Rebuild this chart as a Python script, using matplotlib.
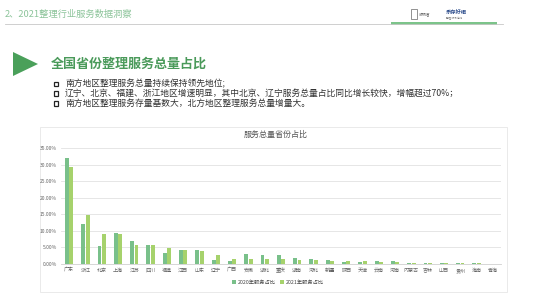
import matplotlib
matplotlib.use("Agg")
import matplotlib.pyplot as plt
import numpy as np
from matplotlib.patches import Polygon, Rectangle

plt.rcParams['font.family'] = ['Noto Sans CJK SC', 'DejaVu Sans']

provinces = ["广东", "浙江", "北京", "上海", "江苏", "四川", "福建", "江西", "山东", "辽宁",
             "广西", "安徽", "湖北", "重庆", "湖南", "河北", "新疆", "陕西", "天津", "云南",
             "河南", "内蒙古", "吉林", "山西", "贵州", "海南", "青海"]
share_2020 = [32.0, 12.0, 5.3, 9.3, 6.8, 5.6, 3.1, 4.2, 4.2, 1.2,
              0.7, 2.8, 2.5, 2.7, 1.6, 1.3, 1.0, 0.6, 0.4, 0.7,
              0.9, 0.1, 0.1, 0.2, 0.1, 0.3, 0.0]
share_2021 = [29.4, 14.7, 8.9, 8.9, 5.7, 5.6, 4.8, 4.2, 3.8, 2.5,
              1.5, 1.5, 1.4, 1.3, 1.2, 1.1, 0.9, 0.8, 0.7, 0.5,
              0.5, 0.3, 0.3, 0.2, 0.2, 0.1, 0.0]
yticks = [0, 5, 10, 15, 20, 25, 30, 35]
series_names = ["2020年服务占比", "2021年服务占比"]

W, H = 533, 300
fig = plt.figure(figsize=(W / 100, H / 100), dpi=100)
fig.patch.set_facecolor("white")

bg = fig.add_axes([0, 0, 1, 1])
bg.set_xlim(0, W)
bg.set_ylim(H, 0)
bg.axis("off")

# header
bg.text(5, 14, "2、2021整理行业服务数据洞察", fontsize=6.7, color="#8cc49a", va="center", ha="left")
bg.plot([5, 503], [23.5, 23.5], color="#c8c8c8", lw=0.6)
bg.add_patch(Rectangle((391, 21.8), 106, 3.2, color="#7cc48a", lw=0))
# logos
bg.add_patch(Rectangle((411, 9), 6, 10, fill=False, ec="#666666", lw=0.5))
bg.text(419, 14, "收纳者", fontsize=2.8, color="#555555", va="center")
bg.text(446, 12, "乐存好柜", fontsize=3.8, color="#2a4a8a", va="center", fontweight="bold")
bg.text(446, 18, "整理 收纳 存储", fontsize=1.8, color="#777777", va="center")

# section title
bg.add_patch(Polygon([[13, 52], [13, 76], [38, 64]], closed=True, color="#4aa05a", lw=0))
bg.text(51, 64, "全国省份整理服务总量占比", fontsize=9.4, color="#4a9a5a",
        fontweight="bold", va="center", ha="left")

bullets = ["南方地区整理服务总量持续保持领先地位;",
           "辽宁、北京、福建、浙江地区增速明显，其中北京、辽宁服务总量占比同比增长较快，增幅超过70%；",
           "南方地区整理服务存量基数大，北方地区整理服务总量增量大。"]
for i, b in enumerate(bullets):
    y = 84 + i * 9.6
    bg.add_patch(Rectangle((53.5, y - 2.3), 4.6, 4.6, fill=False, ec="#222222", lw=0.9))
    bg.text(65, y, b, fontsize=6.3, color="#333333", va="center", ha="left")

# chart frame
bg.add_patch(Rectangle((40, 127), 467, 165, fill=False, ec="#e6e6e6", lw=0.6))
bg.text(276, 134, "服务总量省份占比", fontsize=5.8, color="#555555", va="center", ha="center")

# chart axes
x0, x1 = 61, 501
y_bot, y_top = 263.5, 148.3
ax = fig.add_axes([x0 / W, (H - y_bot) / H, (x1 - x0) / W, (y_bot - y_top) / H])
x = np.arange(len(provinces))
bw = 0.24
c2020 = "#79c08a"
c2021 = "#a6d26c"
ax.bar(x - bw / 2 - 0.015, share_2020, width=bw, color=c2020, zorder=3, label=series_names[0])
ax.bar(x + bw / 2 + 0.015, share_2021, width=bw, color=c2021, zorder=3, label=series_names[1])
ax.set_xlim(-0.5, len(provinces) - 0.5)
ax.set_ylim(0, 35)
ax.set_yticks(yticks)
ax.set_yticklabels([f"{v:.2f}%" for v in yticks], fontsize=3.6, color="#666666")
ax.set_xticks(x)
ax.set_xticklabels(provinces, fontsize=3.6, color="#666666")
ax.tick_params(length=0, pad=3)
ax.grid(axis="y", color="#e2e2e2", lw=0.6, zorder=0)
for s in ["top", "right", "left"]:
    ax.spines[s].set_visible(False)
ax.spines["bottom"].set_color("#d0d0d0")
ax.spines["bottom"].set_linewidth(0.6)
ax.set_facecolor("none")

leg = fig.legend(loc="center", bbox_to_anchor=(278 / W, (H - 282) / H), ncol=2, frameon=False,
                 fontsize=3.8, handlelength=0.8, handleheight=0.8, handletextpad=0.3,
                 columnspacing=0.8, labelcolor="#444444")

fig.savefig("out.png", dpi=100, facecolor="white")
